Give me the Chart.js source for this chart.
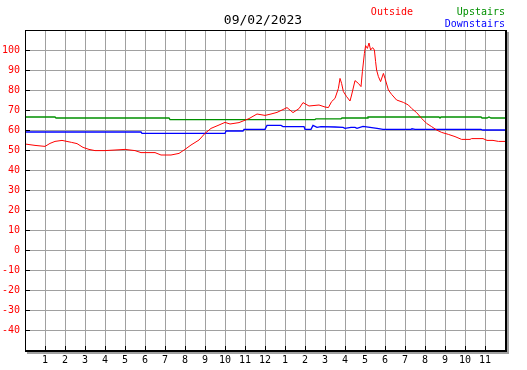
<!DOCTYPE html>
<html>
<head>
<meta charset="utf-8">
<script src="https://cdn.jsdelivr.net/npm/chart.js@4"></script>
<style>
  html, body { margin: 0; padding: 0; background: #fff; }
  #wrap { width: 527px; height: 370px; }
</style>
</head>
<body>
<div id="wrap"><canvas id="myChart" width="527" height="370"></canvas></div>
<script>
var chartTitle = '09/02/2023';

// hours since midnight / temperature (F)
var outsideHours = [0, 0.5, 1, 1.25, 1.5, 1.85, 2.33, 2.6, 2.9, 3.2, 3.5, 4, 4.5, 5, 5.5, 5.8, 6.5, 6.8, 7.3, 7.7,
    8, 8.3, 8.7, 9, 9.3, 9.7, 10, 10.25, 10.7, 11.2, 11.6, 12, 12.3, 12.6, 13.1, 13.4, 13.7, 13.9, 14.2, 14.7,
    15, 15.17, 15.33, 15.5, 15.67, 15.75, 15.83, 15.92, 16.08, 16.25, 16.33, 16.5, 16.67, 16.8, 16.87, 16.97,
    17.03, 17.12, 17.2, 17.28, 17.38, 17.47, 17.53, 17.58, 17.67, 17.78, 17.92, 18, 18.17, 18.33, 18.58, 18.92,
    19.17, 19.33, 19.58, 19.83, 20.08, 20.33, 20.58, 20.83, 21.17, 21.5, 21.83, 22.25, 22.33, 22.9, 23.1, 23.4,
    23.67, 24];
var outsideTemps = [53, 52.3, 51.8, 53.3, 54.3, 54.8, 53.8, 53.2, 51.3, 50.3, 49.7, 49.7, 50, 50.3, 49.7, 48.7, 48.7, 47.5, 47.5, 48.3,
    50.3, 52.5, 55, 58.3, 60.8, 62.5, 63.8, 63, 63.7, 65.7, 68, 67.3, 68, 68.8, 71.2, 68.7, 70.7, 73.7, 72, 72.5,
    71.5, 71.2, 74.2, 75.8, 80.8, 85.8, 83.3, 79.2, 76.7, 74.5, 77.5, 84.7, 83.3, 81.7, 89.2, 98.3,
    102.2, 100.8, 103.5, 100, 101.2, 100, 94.2, 90, 86.7, 84.2, 88.3, 85.8, 80, 77.8, 75, 73.8,
    72.5, 70.8, 68.7, 65.8, 63.3, 61.7, 60, 58.8, 57.8, 56.7, 55.3, 55.3, 55.7, 55.7, 54.8, 54.8,
    54.3, 54.3];

var upstairsHours = [0, 1.5, 1.55, 7.2, 7.25, 14.5, 14.55, 15.8, 15.85, 17.1, 17.15, 20.7, 20.75, 20.8, 22.8, 22.85, 23.1, 23.2, 23.3, 24];
var upstairsTemps = [66.5, 66.5, 66, 66, 65.2, 65.2, 65.6, 65.6, 66, 66, 66.5, 66.5, 66, 66.5, 66.5, 66, 66, 66.5, 66, 66];

var downstairsHours = [0, 5.8, 5.85, 10, 10.05, 10.9, 10.95, 12, 12.1, 12.8, 12.9, 13.95, 14, 14.3, 14.4, 14.6, 14.8, 15.5,
    15.9, 16, 16.3, 16.5, 16.6, 16.9, 17.25, 17.6, 17.9, 19.3, 19.35, 19.5, 22.8, 22.9, 24];
var downstairsTemps = [59, 59, 58.3, 58.3, 59.5, 59.5, 60.3, 60.3, 62.3, 62.3, 61.7, 61.7, 60.3, 60.3, 62.3, 61.3, 61.7, 61.5,
    61.3, 60.8, 61.3, 61.3, 60.8, 61.8, 61.3, 60.8, 60.3, 60.3, 60.6, 60.3, 60.3, 60, 60];

var yMin = -50, yMax = 110, yStep = 10;
var xMin = 0, xMax = 24;

function toPoints(hours, temps) {
    return hours.map(function (h, i) { return {x: h, y: temps[i]}; });
}

var monoFont = '"DejaVu Sans Mono", "Liberation Mono", monospace';

// frame, inner tick marks, title and legend text
var framePlugin = {
    id: 'frame',
    afterDraw: function (chart) {
        var ctx = chart.ctx;
        var a = chart.chartArea;
        var xs = chart.scales.x, ys = chart.scales.y;
        ctx.save();
        ctx.fillStyle = '#a0a0a0';
        ctx.fillRect(a.right + 2, a.top + 2, 2, a.bottom - a.top + 2);
        ctx.fillRect(a.left + 2, a.bottom + 2, a.right - a.left + 2, 2);
        ctx.fillStyle = '#000';
        ctx.fillRect(a.left, a.top, a.right - a.left + 2, 1);
        ctx.fillRect(a.left, a.top, 1, a.bottom - a.top + 2);
        ctx.fillRect(a.left, a.bottom, a.right - a.left + 2, 2);
        ctx.fillRect(a.right, a.top, 2, a.bottom - a.top + 2);
        ys.ticks.forEach(function (t) {
            var p = Math.round(ys.getPixelForValue(t.value));
            ctx.fillRect(a.left, p, 5, 1);
        });
        xs.ticks.forEach(function (t) {
            var p = Math.round(xs.getPixelForValue(t.value));
            ctx.fillRect(p, a.bottom - 4, 1, 4);
        });

        ctx.font = '13px ' + monoFont;
        ctx.textAlign = 'center';
        ctx.textBaseline = 'alphabetic';
        ctx.fillStyle = '#000';
        ctx.fillText(chartTitle, 263, 24);

        var ds = chart.data.datasets;
        ctx.font = '10px ' + monoFont;
        ctx.textAlign = 'right';
        ctx.fillStyle = ds[0].borderColor;
        ctx.fillText(ds[0].label, 413, 15);
        ctx.fillStyle = ds[1].borderColor;
        ctx.fillText(ds[1].label, 505, 15);
        ctx.fillStyle = ds[2].borderColor;
        ctx.fillText(ds[2].label, 505, 27);
        ctx.restore();
    }
};

var ctx = document.getElementById('myChart').getContext('2d');
var myChart = new Chart(ctx, {
    type: 'line',
    data: {
        datasets: [{
                label: 'Outside',
                data: toPoints(outsideHours, outsideTemps),
                borderColor: '#ff0000',
                borderWidth: 1
            }, {
                label: 'Upstairs',
                data: toPoints(upstairsHours, upstairsTemps),
                borderColor: '#009000',
                borderWidth: 1.3
            }, {
                label: 'Downstairs',
                data: toPoints(downstairsHours, downstairsTemps),
                borderColor: '#0000ff',
                borderWidth: 1.3
            }]
    },
    options: {
        responsive: false,
        animation: false,
        events: [],
        layout: {
            padding: {top: 30, right: 22, left: 0, bottom: 0}
        },
        elements: {
            point: {radius: 0},
            line: {tension: 0}
        },
        scales: {
            x: {
                type: 'linear',
                min: xMin,
                max: xMax,
                afterFit: function (scale) { scale.height = 20; },
                border: {display: false},
                grid: {color: '#a0a0a0', lineWidth: 1, drawTicks: false},
                ticks: {
                    stepSize: 1,
                    padding: 4,
                    maxRotation: 0,
                    autoSkip: false,
                    color: '#000',
                    font: {family: monoFont, size: 10},
                    callback: function (v) {
                        if (v <= xMin || v >= xMax) return '';
                        return String(v % 12 || 12);
                    }
                }
            },
            y: {
                min: yMin,
                max: yMax,
                afterFit: function (scale) { scale.width = 25; },
                border: {display: false},
                grid: {color: '#a0a0a0', lineWidth: 1, drawTicks: false},
                ticks: {
                    stepSize: yStep,
                    padding: 5,
                    color: '#ff0000',
                    font: {family: monoFont, size: 10},
                    callback: function (v) {
                        if (v <= yMin || v >= yMax) return '';
                        return String(v);
                    }
                }
            }
        },
        plugins: {
            legend: {display: false},
            title: {display: false},
            tooltip: {enabled: false}
        }
    },
    plugins: [framePlugin]
});
</script>
</body>
</html>
